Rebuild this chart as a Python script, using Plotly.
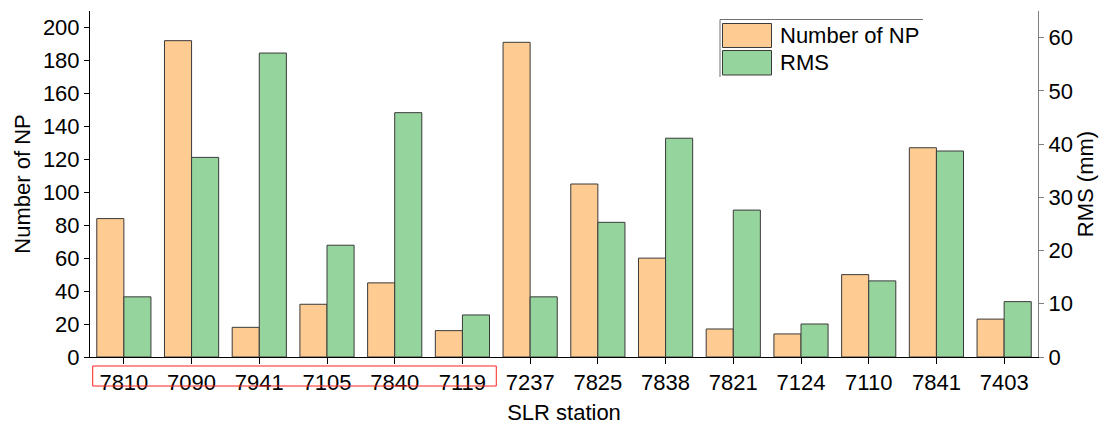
import plotly.graph_objects as go

# Station data
stations = ["7810", "7090", "7941", "7105", "7840", "7119", "7237",
            "7825", "7838", "7821", "7124", "7110", "7841", "7403"]
num_np = [84, 192, 18, 32, 45, 16, 191, 105, 60, 17, 14, 50, 127, 23]
rms_mm = [11.3, 37.5, 57.1, 21.0, 45.9, 7.9, 11.3, 25.3, 41.1, 27.6, 6.2, 14.3, 38.7, 10.4]

ORANGE = "#FECB92"
GREEN = "#96D49D"
EDGE = "#3a3a3a"
FONT = "Liberation Sans, Arial, sans-serif"
FS = 22

W, H = 1106, 425
ML, MR, MT, MB = 90, 68, 11, 68
PW, PH = W - ML - MR, H - MT - MB


def px_x(px):
    return (px - ML) / PW


def px_y(py):
    return (H - MB - py) / PH


fig = go.Figure()
fig.add_trace(go.Bar(
    x=stations, y=num_np, name="Number of NP", yaxis="y", offsetgroup="np",
    marker=dict(color=ORANGE, line=dict(color=EDGE, width=1)),
))
fig.add_trace(go.Bar(
    x=stations, y=rms_mm, name="RMS", yaxis="y2", offsetgroup="rms",
    marker=dict(color=GREEN, line=dict(color=EDGE, width=1)),
))

shapes = []
annotations = []

# Highlight box around the first six station labels
shapes.append(dict(type="rect", xref="x", yref="paper",
                   x0=-0.46, x1=5.5, y0=px_y(386), y1=px_y(366),
                   line=dict(color="#FF2020", width=1), fillcolor="rgba(0,0,0,0)"))

# Legend drawn by hand: top and left border lines, swatches, labels
shapes.append(dict(type="line", xref="paper", yref="paper",
                   x0=px_x(720), x1=px_x(923), y0=px_y(19.5), y1=px_y(19.5),
                   line=dict(color="#707070", width=1)))
shapes.append(dict(type="line", xref="paper", yref="paper",
                   x0=px_x(720), x1=px_x(720), y0=px_y(19.5), y1=px_y(77),
                   line=dict(color="#707070", width=1)))
for (top, bot, col, label, cy) in [(23.5, 47.5, ORANGE, "Number of NP", 35.5),
                                   (50.5, 75, GREEN, "RMS", 62.5)]:
    shapes.append(dict(type="rect", xref="paper", yref="paper",
                       x0=px_x(722.5), x1=px_x(771.5), y0=px_y(bot), y1=px_y(top),
                       fillcolor=col, line=dict(color=EDGE, width=1)))
    annotations.append(dict(text=label, xref="paper", yref="paper",
                            x=px_x(778), y=px_y(cy), xanchor="left", yanchor="middle",
                            showarrow=False, font=dict(family=FONT, size=FS, color="black")))

axis_common = dict(
    showgrid=False, zeroline=False, ticks="outside", tickwidth=1, automargin=False,
    tickfont=dict(family=FONT, size=FS, color="black"),
)

fig.update_layout(
    width=W, height=H,
    margin=dict(l=ML, r=MR, t=MT, b=MB),
    paper_bgcolor="white", plot_bgcolor="white",
    barmode="group", bargap=0.2, bargroupgap=0,
    showlegend=False,
    font=dict(family=FONT, size=FS, color="black"),
    xaxis=dict(
        **axis_common, range=[-0.5, 13.5], showline=True, linecolor="black",
        linewidth=1, tickcolor="black", ticklen=6,
        title=dict(text="SLR station", font=dict(family=FONT, size=FS), standoff=12),
    ),
    yaxis=dict(
        **axis_common, range=[0, 210], dtick=20, showline=True, linecolor="black",
        linewidth=1, tickcolor="black", ticklen=5,
        title=dict(text="Number of NP", font=dict(family=FONT, size=FS), standoff=6),
    ),
    yaxis2=dict(
        **axis_common, range=[0, 65], dtick=10, overlaying="y", side="right",
        showline=True, linecolor="#808080", linewidth=1, tickcolor="#808080", ticklen=5,
        title=dict(text="RMS (mm)", font=dict(family=FONT, size=FS), standoff=3),
    ),
    shapes=shapes,
    annotations=annotations,
)

fig.write_html("out.html")
